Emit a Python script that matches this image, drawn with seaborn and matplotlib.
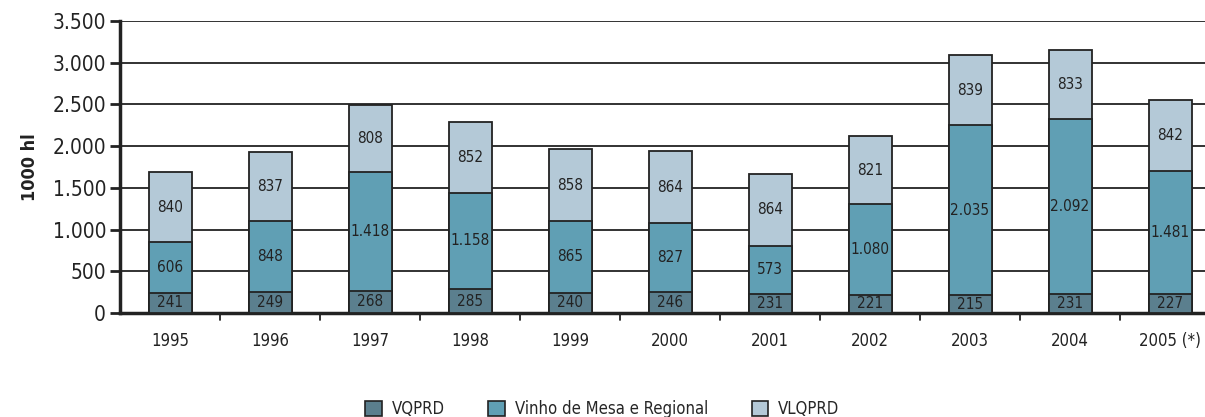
import pandas as pd
import numpy as np
import matplotlib
matplotlib.use("Agg")
import matplotlib.pyplot as plt
import seaborn as sns
from matplotlib.patches import Patch

# --- dados ---
anos = ["1995", "1996", "1997", "1998", "1999", "2000", "2001", "2002", "2003", "2004", "2005 (*)"]
vqprd = [241, 249, 268, 285, 240, 246, 231, 221, 215, 231, 227]
vinho_mesa = [606, 848, 1418, 1158, 865, 827, 573, 1080, 2035, 2092, 1481]
vlqprd = [840, 837, 808, 852, 858, 864, 864, 821, 839, 833, 842]
series = ["VQPRD", "Vinho de Mesa e Regional", "VLQPRD"]
cores = ["#5b7f8e", "#609fb4", "#b4c9d7"]

sns.set_theme(style="white")
plt.rcParams['font.family'] = ['DejaVu Sans']
plt.rcParams['font.stretch'] = 'condensed'

fig = plt.figure(figsize=(12.05, 4.17), dpi=100)
ax = fig.add_axes([120 / 1205, 1 - 313 / 417, 1 - 120 / 1205, (313 - 21) / 417])

df = pd.DataFrame({"ano": anos, "VQPRD": vqprd,
                   "Vinho de Mesa e Regional": vinho_mesa, "VLQPRD": vlqprd})
df["c1"] = df["VQPRD"] + df["Vinho de Mesa e Regional"]
df["c2"] = df["c1"] + df["VLQPRD"]

for y in range(500, 3501, 500):
    ax.axhline(y, color="#222222", lw=1.3, zorder=0)

largura = 0.43
sns.barplot(data=df, x="ano", y="c2", color=cores[2], width=largura, saturation=1,
            edgecolor="#222222", linewidth=1.3, ax=ax, zorder=2)
sns.barplot(data=df, x="ano", y="c1", color=cores[1], width=largura, saturation=1,
            edgecolor="#222222", linewidth=1.3, ax=ax, zorder=3)
sns.barplot(data=df, x="ano", y="VQPRD", color=cores[0], width=largura, saturation=1,
            edgecolor="#222222", linewidth=1.3, ax=ax, zorder=4)

def fmt(v):
    return f"{v:,}".replace(",", ".")

for i in range(len(anos)):
    ax.text(i, vqprd[i] / 2, fmt(vqprd[i]), ha="center", va="center", fontsize=11, color="#222222", zorder=5)
    ax.text(i, vqprd[i] + vinho_mesa[i] / 2, fmt(vinho_mesa[i]), ha="center", va="center", fontsize=11, color="#222222", zorder=5)
    ax.text(i, df["c1"][i] + vlqprd[i] / 2, fmt(vlqprd[i]), ha="center", va="center", fontsize=11, color="#222222", zorder=5)

ax.set_ylim(0, 3500)
ax.set_xlim(-0.5, 10.35)
ax.set_yticks(range(0, 3501, 500))
ax.set_yticklabels([fmt(v) for v in range(0, 3501, 500)], fontsize=15, color="#222222")
ax.set_xticks(range(len(anos)))
ax.set_xticklabels(anos, fontsize=12, color="#222222")
ax.tick_params(axis="x", length=0, pad=14)
ax.tick_params(axis="y", length=7, width=2, color="#222222", direction="out", left=True, pad=3)
for i in range(len(anos) - 1):
    ax.plot([i + 0.5, i + 0.5], [0, -0.025], transform=ax.get_xaxis_transform(),
            color="#222222", lw=1.3, clip_on=False)

for s in ["top", "right"]:
    ax.spines[s].set_visible(False)
for s in ["left", "bottom"]:
    ax.spines[s].set_linewidth(2.5)
    ax.spines[s].set_color("#222222")
ax.set_xlabel("")
ax.set_ylabel("1000 hl", fontsize=13, fontweight="bold", color="#222222", labelpad=10)

handles = [Patch(facecolor=c, edgecolor="#222222", linewidth=1.2) for c in cores]
fig.legend(handles, series, loc="lower center", bbox_to_anchor=(0.5, -0.038), ncol=3,
           frameon=False, fontsize=12, handlelength=1.0, handleheight=1.0,
           columnspacing=2.6, handletextpad=0.6)

fig.savefig("out.png", dpi=100)
